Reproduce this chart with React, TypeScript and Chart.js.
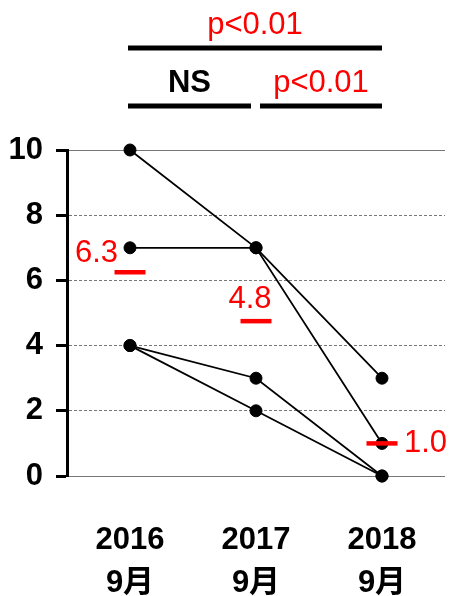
import { useEffect, useRef } from 'react';
import { Chart, registerables } from 'chart.js';
Chart.register(...registerables);

const categories = [['2016', '9月'], ['2017', '9月'], ['2018', '9月']];
const subjectA = [10, 7, 3];
const subjectB = [7, 7, 1];
const subjectC = [4, 3, 0];
const subjectD = [4, 2, 0];
const meanValues = [6.25, 4.75, 1.0];
const meanLabels = ['6.3', '4.8', '1.0'];
const yMin = 0;
const yMax = 10;
const yStep = 2;
const comparisons = [
  { from: 0, to: 2, label: 'p<0.01', color: '#ff0000', row: 0 },
  { from: 0, to: 1, label: 'NS', color: '#000000', row: 1 },
  { from: 1, to: 2, label: 'p<0.01', color: '#ff0000', row: 1 },
];

const FONT = '"Liberation Sans", "Noto Sans CJK JP", sans-serif';
const FS = 31;

const annotationPlugin = {
  id: 'annotations',
  afterDatasetsDraw(chart: any) {
    const ctx = chart.ctx;
    const xs = chart.scales.x;
    const last = categories.length - 1;
    ctx.save();
    const rowLineY = [48, 106];
    const rowTextY = [25, 83];
    comparisons.forEach((c) => {
      const left = c.from === 0 ? xs.getPixelForValue(c.from) - 2 : xs.getPixelForValue(c.from) + 4;
      const right = c.to === last ? xs.getPixelForValue(c.to) : xs.getPixelForValue(c.to) - 5;
      ctx.fillStyle = '#000';
      ctx.fillRect(left, rowLineY[c.row] - 2.5, right - left, 5);
      ctx.font = `${c.color === '#000000' ? 'bold ' : ''}${FS}px ${FONT}`;
      ctx.fillStyle = c.color;
      ctx.textAlign = 'center';
      ctx.textBaseline = 'middle';
      ctx.fillText(c.label, (left + right) / 2, rowTextY[c.row]);
    });
    const meta = chart.getDatasetMeta(0);
    ctx.fillStyle = '#ff0000';
    ctx.font = `${FS}px ${FONT}`;
    ctx.textBaseline = 'middle';
    meta.data.forEach((p: any, i: number) => {
      if (i === 0) {
        ctx.textAlign = 'right';
        ctx.fillText(meanLabels[i], p.x - 12, p.y - 19);
      } else if (i === 1) {
        ctx.textAlign = 'center';
        ctx.fillText(meanLabels[i], p.x - 6, p.y - 22);
      } else {
        ctx.textAlign = 'left';
        ctx.fillText(meanLabels[i], p.x + 22, p.y);
      }
    });
    ctx.restore();
  },
};

function subject(data: number[]) {
  return {
    data,
    borderColor: '#000',
    borderWidth: 1.8,
    pointRadius: 6,
    pointBackgroundColor: '#000',
    pointBorderColor: '#000',
    pointBorderWidth: 1,
    fill: false,
    tension: 0,
    clip: false,
  };
}

export default function App() {
  const ref = useRef<HTMLCanvasElement>(null);
  useEffect(() => {
    const chart = new Chart(ref.current as HTMLCanvasElement, {
      type: 'line',
      data: {
        labels: categories as any,
        datasets: [
          {
            data: meanValues,
            showLine: false,
            pointStyle: 'line',
            pointRadius: 15.5,
            pointBorderWidth: 4.5,
            pointBorderColor: '#ff0000',
            borderColor: '#ff0000',
            clip: false,
          } as any,
          subject(subjectA),
          subject(subjectB),
          subject(subjectC),
          subject(subjectD),
        ] as any,
      },
      options: {
        animation: false,
        responsive: false,
        layout: { autoPadding: false, padding: { top: 150, right: 10, left: 0, bottom: 0 } },
        plugins: { legend: { display: false }, tooltip: { enabled: false } },
        scales: {
          x: {
            type: 'category',
            offset: true,
            grid: { display: false, drawTicks: false },
            border: { display: false },
            ticks: {
              color: '#000',
              padding: 43,
              font: { family: FONT, size: FS, lineHeight: 1.39, weight: 'bold' },
            },
            afterFit(scale: any) {
              scale.height = 120;
              scale.paddingLeft = 0;
              scale.paddingRight = 0;
            },
          },
          y: {
            min: yMin,
            max: yMax,
            ticks: {
              stepSize: yStep,
              color: '#000',
              padding: 13,
              font: { family: FONT, size: FS, weight: 'bold' },
            },
            grid: {
              color: '#777',
              lineWidth: 1,
              tickColor: '#000',
              tickWidth: 3,
              tickLength: 11,
              tickBorderDash: [],
            },
            border: {
              display: true,
              color: '#000',
              width: 3,
              dash: (c: any) => (c.tick && c.tick.value !== yMin && c.tick.value !== yMax ? [3, 2] : []),
            } as any,
            afterFit(scale: any) {
              scale.width = 67;
            },
          },
        },
      },
      plugins: [annotationPlugin],
    });
    return () => chart.destroy();
  }, []);
  return (
    <div style={{ position: 'absolute', left: 0, top: 0, width: 455, height: 596, background: '#fff' }}>
      <canvas ref={ref} width={455} height={596} />
    </div>
  );
}
